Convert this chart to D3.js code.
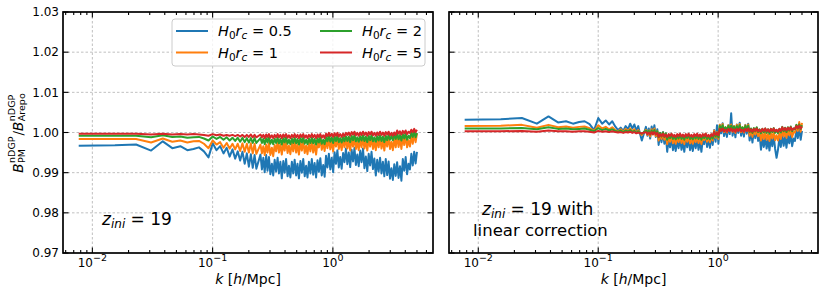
<!DOCTYPE html>
<html>
<head>
<meta charset="utf-8">
<script src="https://cdn.jsdelivr.net/npm/d3@7"></script>
<style>
  body { margin: 0; background: #fff; }
  text { font-family: "DejaVu Sans", sans-serif; fill: #000; }
</style>
</head>
<body>
<svg id="chart" width="826" height="294"></svg>
<script>
// k bins [h/Mpc]
const kValues = [0.0077,0.0154,0.0231,0.0308,0.0385,0.0462,0.0539,0.0616,0.0693,0.077,
  0.0847,0.0924,0.1001,0.1078,0.1155,0.1232,0.1309,0.1386,0.1463,0.154,
  0.1617,0.1694,0.1771,0.1848,0.1925,0.2002,0.2079,0.2156,0.2233,0.231,
  0.25,0.257,0.264,0.271,0.279,0.286,0.294,0.302,0.311,0.319,
  0.328,0.337,0.347,0.356,0.366,0.376,0.387,0.397,0.408,0.42,
  0.431,0.443,0.456,0.468,0.481,0.495,0.508,0.522,0.537,0.552,
  0.567,0.583,0.599,0.615,0.632,0.65,0.668,0.686,0.705,0.725,
  0.745,0.765,0.786,0.808,0.831,0.854,0.877,0.901,0.926,0.952,
  0.978,1.005,1.033,1.061,1.09,1.12,1.151,1.183,1.216,1.249,
  1.284,1.319,1.356,1.393,1.432,1.471,1.512,1.553,1.596,1.64,
  1.686,1.732,1.78,1.829,1.88,1.932,1.985,2.04,2.096,2.154,
  2.213,2.275,2.337,2.402,2.468,2.536,2.606,2.678,2.752,2.828,
  2.906,2.986,3.069,3.153,3.24,3.33,3.422,3.516,3.613,3.713,
  3.815,3.921,4.029,4.14,4.254,4.372,4.492,4.616,4.744,4.875,5.0];

// left panel: z_ini = 19
const leftBlue = [0.9967,0.9968,0.9970,0.9955,0.9978,0.9961,0.9966,0.9956,0.9959,0.9963,
  0.9953,0.9938,0.9973,0.9956,0.9966,0.9948,0.9962,0.9940,0.9958,0.9935,
  0.9953,0.9930,0.9952,0.9922,0.9948,0.9915,0.9946,0.9912,0.9944,0.9910,
  0.9945,0.9908,0.9937,0.9901,0.9944,0.9905,0.9939,0.9896,0.9922,0.9893,
  0.9932,0.9903,0.9937,0.9898,0.9927,0.9886,0.9929,0.9900,0.9934,0.9891,
  0.9917,0.9888,0.9927,0.9898,0.9932,0.9893,0.9922,0.9886,0.9929,0.9900,
  0.9934,0.9891,0.9917,0.9888,0.9927,0.9898,0.9934,0.9895,0.9924,0.9888,
  0.9931,0.9902,0.9936,0.9893,0.9919,0.9890,0.9942,0.9913,0.9947,0.9908,
  0.9937,0.9901,0.9951,0.9922,0.9956,0.9913,0.9939,0.9910,0.9949,0.9926,
  0.9960,0.9921,0.9950,0.9914,0.9957,0.9928,0.9962,0.9919,0.9945,0.9916,
  0.9955,0.9926,0.9960,0.9911,0.9940,0.9904,0.9947,0.9918,0.9952,0.9909,
  0.9935,0.9893,0.9932,0.9903,0.9937,0.9898,0.9927,0.9891,0.9934,0.9894,
  0.9928,0.9885,0.9911,0.9882,0.9921,0.9892,0.9926,0.9887,0.9916,0.9880,
  0.9934,0.9905,0.9939,0.9896,0.9922,0.9908,0.9947,0.9918,0.9952,0.9923,0.9952];
const leftOrange = [0.9984,0.9984,0.9984,0.9975,0.9985,0.9977,0.9980,0.9975,0.9978,0.9979,
  0.9972,0.9961,0.9980,0.9970,0.9976,0.9962,0.9974,0.9960,0.9972,0.9958,
  0.9972,0.9954,0.9973,0.9952,0.9972,0.9950,0.9973,0.9948,0.9972,0.9947,
  0.9970,0.9948,0.9966,0.9944,0.9970,0.9950,0.9974,0.9944,0.9962,0.9941,
  0.9969,0.9953,0.9978,0.9950,0.9971,0.9945,0.9975,0.9955,0.9979,0.9949,
  0.9967,0.9946,0.9974,0.9953,0.9978,0.9950,0.9971,0.9945,0.9975,0.9955,
  0.9979,0.9949,0.9967,0.9946,0.9974,0.9953,0.9978,0.9950,0.9971,0.9945,
  0.9975,0.9963,0.9987,0.9957,0.9975,0.9954,0.9982,0.9961,0.9986,0.9958,
  0.9979,0.9953,0.9985,0.9965,0.9989,0.9959,0.9977,0.9956,0.9984,0.9963,
  0.9988,0.9960,0.9981,0.9955,0.9985,0.9965,0.9989,0.9959,0.9977,0.9956,
  0.9984,0.9963,0.9988,0.9960,0.9981,0.9955,0.9985,0.9965,0.9989,0.9959,
  0.9977,0.9956,0.9984,0.9963,0.9988,0.9960,0.9981,0.9955,0.9985,0.9965,
  0.9989,0.9959,0.9977,0.9956,0.9984,0.9963,0.9992,0.9964,0.9985,0.9959,
  0.9989,0.9969,0.9993,0.9963,0.9981,0.9965,0.9993,0.9972,0.9997,0.9976,0.9997];
const leftGreen = [0.9992,0.9992,0.9992,0.9988,0.9993,0.9989,0.9990,0.9987,0.9988,0.9989,
  0.9985,0.9980,0.9990,0.9984,0.9989,0.9982,0.9988,0.9980,0.9987,0.9979,
  0.9987,0.9977,0.9987,0.9976,0.9986,0.9975,0.9986,0.9974,0.9986,0.9974,
  0.9986,0.9974,0.9984,0.9971,0.9986,0.9975,0.9988,0.9972,0.9982,0.9971,
  0.9985,0.9974,0.9987,0.9973,0.9984,0.9970,0.9986,0.9975,0.9988,0.9972,
  0.9982,0.9971,0.9985,0.9974,0.9987,0.9973,0.9984,0.9970,0.9986,0.9975,
  0.9988,0.9972,0.9982,0.9971,0.9985,0.9974,0.9987,0.9973,0.9984,0.9970,
  0.9986,0.9975,0.9988,0.9972,0.9982,0.9971,0.9989,0.9978,0.9991,0.9977,
  0.9988,0.9974,0.9990,0.9979,0.9992,0.9976,0.9986,0.9975,0.9989,0.9978,
  0.9991,0.9979,0.9990,0.9976,0.9992,0.9981,0.9994,0.9978,0.9988,0.9977,
  0.9991,0.9980,0.9993,0.9979,0.9990,0.9976,0.9992,0.9981,0.9994,0.9978,
  0.9988,0.9977,0.9991,0.9980,0.9993,0.9979,0.9990,0.9976,0.9992,0.9981,
  0.9994,0.9982,0.9992,0.9981,0.9995,0.9984,0.9997,0.9983,0.9994,0.9980,
  0.9996,0.9985,0.9998,0.9982,0.9992,0.9986,1.0000,0.9989,1.0002,0.9988,0.9999];
const leftRed = [0.9997,0.9997,0.9997,0.9995,0.9997,0.9995,0.9996,0.9995,0.9996,0.9995,
  0.9994,0.9992,0.9996,0.9993,0.9995,0.9992,0.9994,0.9992,0.9994,0.9991,
  0.9994,0.9990,0.9994,0.9989,0.9994,0.9989,0.9995,0.9988,0.9994,0.9988,
  0.9995,0.9988,0.9994,0.9986,0.9995,0.9989,0.9996,0.9987,0.9993,0.9986,
  0.9994,0.9988,0.9996,0.9988,0.9994,0.9986,0.9995,0.9989,0.9996,0.9987,
  0.9993,0.9986,0.9994,0.9988,0.9996,0.9988,0.9994,0.9986,0.9995,0.9989,
  0.9996,0.9987,0.9993,0.9986,0.9994,0.9988,0.9996,0.9988,0.9994,0.9986,
  0.9995,0.9989,0.9996,0.9987,0.9993,0.9986,0.9997,0.9991,0.9999,0.9991,
  0.9997,0.9989,0.9998,0.9992,0.9999,0.9990,0.9996,0.9989,0.9997,0.9991,
  0.9999,0.9994,1.0000,0.9992,1.0001,0.9995,1.0002,0.9993,0.9999,0.9992,
  1.0000,0.9994,1.0002,0.9994,1.0000,0.9992,1.0001,0.9995,1.0002,0.9993,
  0.9999,0.9992,1.0000,0.9994,1.0002,0.9994,1.0000,0.9992,1.0001,0.9995,
  1.0002,0.9993,0.9999,0.9992,1.0000,0.9994,1.0005,0.9997,1.0003,0.9995,
  1.0004,0.9998,1.0005,0.9996,1.0002,0.9999,1.0007,1.0001,1.0009,1.0001,1.0007];

// right panel: z_ini = 19 with linear correction
const rightBlue = [1.0032,1.0033,1.0036,1.0022,1.0040,1.0025,1.0028,1.0022,1.0026,1.0028,
  1.0021,1.0006,1.0036,1.0022,1.0030,1.0020,1.0028,1.0015,1.0006,1.0012,
  1.0004,1.0016,1.0008,1.0022,1.0010,1.0020,1.0005,1.0016,0.9996,0.9980,
  1.0014,0.9992,1.0010,0.9985,1.0015,0.9996,1.0018,0.9989,1.0008,0.9969,
  0.9998,0.9976,1.0001,0.9972,0.9994,0.9952,0.9984,0.9963,0.9988,0.9956,
  0.9975,0.9954,0.9983,0.9961,0.9986,0.9957,0.9979,0.9952,0.9984,0.9963,
  0.9988,0.9956,0.9975,0.9954,0.9983,0.9961,0.9986,0.9957,0.9979,0.9952,
  0.9984,0.9971,0.9996,0.9964,0.9983,0.9962,0.9991,0.9969,1.0006,0.9977,
  1.0018,0.9972,1.0019,0.9998,1.0023,0.9991,1.0010,0.9989,1.0018,0.9996,
  1.0048,0.9992,1.0014,0.9988,1.0020,0.9999,1.0024,0.9992,1.0011,0.9990,
  1.0019,0.9997,1.0022,0.9980,1.0002,0.9975,1.0007,0.9986,1.0011,0.9979,
  0.9998,0.9957,0.9986,0.9964,0.9989,0.9960,0.9982,0.9955,0.9987,0.9966,
  0.9991,0.9959,0.9937,0.9957,0.9986,0.9964,0.9996,0.9967,0.9989,0.9962,
  0.9994,0.9973,0.9998,0.9966,0.9985,0.9979,1.0008,0.9986,1.0011,0.9982,1.0004];
const rightOrange = [1.0016,1.0017,1.0019,1.0012,1.0019,1.0013,1.0015,1.0012,1.0014,1.0015,
  1.0011,1.0004,1.0018,1.0010,1.0014,1.0008,1.0013,1.0006,1.0003,1.0008,
  1.0002,1.0009,1.0004,1.0010,1.0003,1.0008,0.9999,1.0006,0.9998,0.9994,
  1.0007,0.9994,1.0005,0.9990,1.0008,0.9995,1.0010,0.9991,1.0003,0.9980,
  0.9998,0.9984,1.0000,0.9982,0.9996,0.9971,0.9991,0.9977,0.9993,0.9973,
  0.9985,0.9972,0.9990,0.9976,0.9992,0.9974,0.9988,0.9971,0.9991,0.9977,
  0.9993,0.9973,0.9985,0.9972,0.9990,0.9976,0.9992,0.9974,0.9988,0.9971,
  0.9991,0.9981,0.9997,0.9977,0.9989,0.9976,0.9994,0.9980,1.0005,0.9987,
  1.0001,0.9984,1.0019,1.0005,1.0021,1.0001,1.0013,1.0000,1.0018,1.0004,
  1.0020,1.0002,1.0016,0.9999,1.0019,1.0005,1.0021,1.0001,1.0013,1.0000,
  1.0018,1.0004,1.0020,0.9992,1.0006,0.9989,1.0009,0.9995,1.0011,0.9991,
  1.0003,0.9980,0.9998,0.9984,1.0000,0.9982,0.9996,0.9979,0.9999,0.9985,
  1.0001,0.9981,0.9993,0.9980,0.9998,0.9984,1.0008,0.9990,1.0004,0.9987,
  1.0007,0.9993,1.0009,0.9989,1.0001,1.0000,1.0018,1.0004,1.0026,1.0002,1.0024];
const rightGreen = [1.0010,1.0010,1.0011,1.0008,1.0013,1.0009,1.0010,1.0008,1.0009,1.0010,
  1.0007,1.0003,1.0011,1.0006,1.0009,1.0005,1.0008,1.0004,1.0002,1.0005,
  1.0001,1.0005,1.0002,1.0006,1.0001,1.0004,0.9999,1.0003,0.9999,0.9997,
  1.0005,0.9997,1.0004,0.9995,1.0005,0.9998,1.0006,0.9996,1.0003,0.9988,
  0.9999,0.9990,1.0000,0.9989,0.9998,0.9982,0.9994,0.9986,0.9996,0.9984,
  0.9991,0.9983,0.9994,0.9985,0.9995,0.9984,0.9993,0.9982,0.9994,0.9986,
  0.9996,0.9984,0.9991,0.9983,0.9994,0.9985,0.9995,0.9984,0.9993,0.9982,
  0.9994,0.9986,0.9996,0.9984,0.9991,0.9983,0.9994,0.9985,1.0001,0.9990,
  0.9999,0.9988,1.0016,1.0008,1.0018,1.0006,1.0013,1.0005,1.0016,1.0007,
  1.0017,1.0006,1.0015,1.0004,1.0016,1.0008,1.0018,1.0006,1.0013,1.0005,
  1.0016,1.0007,1.0017,1.0001,1.0010,0.9999,1.0011,1.0003,1.0013,1.0001,
  1.0008,0.9998,1.0009,1.0000,1.0010,0.9999,1.0008,0.9997,1.0009,1.0001,
  1.0011,0.9999,1.0006,0.9998,1.0009,1.0000,1.0014,1.0003,1.0012,1.0001,
  1.0013,1.0005,1.0015,1.0003,1.0010,1.0008,1.0019,1.0010,1.0020,1.0009,1.0018];
const rightRed = [1.0003,1.0003,1.0004,1.0002,1.0005,1.0003,1.0003,1.0002,1.0003,1.0003,
  1.0002,1.0000,1.0004,1.0002,1.0003,1.0001,1.0003,1.0001,1.0000,1.0001,
  0.9999,1.0001,1.0000,1.0002,0.9999,1.0001,0.9998,1.0000,0.9998,0.9998,
  1.0001,0.9996,1.0000,0.9995,1.0001,0.9996,1.0001,0.9995,0.9999,0.9989,
  0.9996,0.9991,0.9997,0.9990,0.9995,0.9989,0.9996,0.9991,0.9997,0.9990,
  0.9994,0.9989,0.9996,0.9991,0.9997,0.9990,0.9995,0.9989,0.9996,0.9991,
  0.9997,0.9990,0.9994,0.9989,0.9996,0.9991,0.9997,0.9990,0.9995,0.9989,
  0.9996,0.9991,0.9997,0.9990,0.9994,0.9989,0.9996,0.9991,1.0001,0.9994,
  0.9999,0.9993,1.0009,1.0004,1.0010,1.0003,1.0007,1.0002,1.0009,1.0004,
  1.0010,1.0003,1.0008,1.0002,1.0009,1.0004,1.0010,1.0003,1.0007,1.0002,
  1.0009,1.0004,1.0010,1.0003,1.0008,1.0002,1.0009,1.0004,1.0010,1.0003,
  1.0007,1.0002,1.0009,1.0004,1.0010,1.0003,1.0008,1.0002,1.0009,1.0004,
  1.0010,1.0003,1.0007,1.0002,1.0009,1.0004,1.0013,1.0006,1.0011,1.0005,
  1.0012,1.0007,1.0013,1.0006,1.0010,1.0009,1.0016,1.0011,1.0017,1.0010,1.0015];

const seriesLabels = ['0.5', '1', '2', '5'];
const seriesColors = ['#1f77b4', '#ff7f0e', '#2ca02c', '#d62728'];
const xMajorTicks = [0.01, 0.1, 1];
const xMajorExp = ['\u22122', '\u22121', '0'];
const xMinorTicks = [0.006,0.007,0.008,0.009,0.02,0.03,0.04,0.05,0.06,0.07,0.08,0.09,
  0.2,0.3,0.4,0.5,0.6,0.7,0.8,0.9,2,3,4,5,6];
const yTicks = [0.97, 0.98, 0.99, 1.00, 1.01, 1.02, 1.03];

const svg = d3.select('#chart');
const plotTop = 12, plotBottom = 253;

const y = d3.scaleLinear().domain([0.97, 1.03]).range([plotBottom, plotTop]);

function drawPanel(id, left, right, series, showYLabels) {
    const x = d3.scaleLog().domain([0.0057, 6.8]).range([left, right]);
    const g = svg.append('g');

    // grid
    g.append('g').selectAll('line').data(xMajorTicks).enter().append('line')
        .attr('x1', d => x(d)).attr('x2', d => x(d)).attr('y1', plotTop).attr('y2', plotBottom)
        .attr('stroke', '#b0b0b0').attr('stroke-width', 0.8).attr('stroke-dasharray', '2.5,2');
    g.append('g').selectAll('line').data(yTicks.slice(1, -1)).enter().append('line')
        .attr('x1', left).attr('x2', right).attr('y1', d => y(d)).attr('y2', d => y(d))
        .attr('stroke', '#b0b0b0').attr('stroke-width', 0.8).attr('stroke-dasharray', '2.5,2');

    // clipped lines
    svg.append('clipPath').attr('id', 'clip' + id).append('rect')
        .attr('x', left).attr('y', plotTop).attr('width', right - left).attr('height', plotBottom - plotTop);
    const line = d3.line().x((d, i) => x(kValues[i])).y(d => y(d));
    g.append('g').attr('clip-path', `url(#clip${id})`)
        .selectAll('path').data(series).enter().append('path')
        .attr('d', d => line(d)).attr('fill', 'none')
        .attr('stroke', (d, i) => seriesColors[i]).attr('stroke-width', 2)
        .attr('stroke-linejoin', 'round');

    // ticks, inward on all sides
    const ticks = g.append('g').attr('stroke', '#000').attr('stroke-width', 1.1);
    [[xMajorTicks, 5.5], [xMinorTicks, 3]].forEach(([vals, len]) => {
        vals.forEach(v => {
            const xv = x(v);
            if (xv < left || xv > right) return;
            ticks.append('line').attr('x1', xv).attr('x2', xv).attr('y1', plotBottom).attr('y2', plotBottom - len);
            ticks.append('line').attr('x1', xv).attr('x2', xv).attr('y1', plotTop).attr('y2', plotTop + len);
        });
    });
    yTicks.forEach(v => {
        ticks.append('line').attr('x1', left).attr('x2', left + 5.5).attr('y1', y(v)).attr('y2', y(v));
        ticks.append('line').attr('x1', right).attr('x2', right - 5.5).attr('y1', y(v)).attr('y2', y(v));
    });

    // frame
    g.append('rect').attr('x', left).attr('y', plotTop).attr('width', right - left).attr('height', plotBottom - plotTop)
        .attr('fill', 'none').attr('stroke', '#000').attr('stroke-width', 1.7);

    // x tick labels
    xMajorTicks.forEach((v, i) => {
        const t = g.append('text').attr('x', x(v)).attr('y', 266.5)
            .attr('text-anchor', 'middle').attr('font-size', 12);
        t.append('tspan').text('10');
        t.append('tspan').attr('dy', -6).attr('font-size', 9.5).text(xMajorExp[i]);
    });

    if (showYLabels) {
        g.append('g').selectAll('text').data(yTicks).enter().append('text')
            .attr('x', left - 4).attr('y', d => y(d) + 4.3)
            .attr('text-anchor', 'end').attr('font-size', 12)
            .text(d => d.toFixed(2));
    }

    // x axis label
    const xl = g.append('text').attr('x', (left + right) / 2).attr('y', 284)
        .attr('text-anchor', 'middle').attr('font-size', 14);
    xl.append('tspan').attr('font-style', 'italic').text('k');
    xl.append('tspan').text(' [');
    xl.append('tspan').attr('font-style', 'italic').text('h');
    xl.append('tspan').text('/Mpc]');
    return x;
}

drawPanel('L', 63, 433, [leftBlue, leftOrange, leftGreen, leftRed], true);
drawPanel('R', 449, 818, [rightBlue, rightOrange, rightGreen, rightRed], false);

// z_ini annotations
function zini(t, extra) {
    t.append('tspan').attr('font-style', 'italic').text('z');
    t.append('tspan').attr('font-style', 'italic').attr('font-size', 12).attr('dy', 2.5).text('ini');
    t.append('tspan').attr('dy', -2.5).text(' = 19' + extra);
}
zini(svg.append('text').attr('x', 102).attr('y', 225).attr('font-size', 17), '');
zini(svg.append('text').attr('x', 482).attr('y', 215).attr('font-size', 17), ' with');
svg.append('text').attr('x', 473).attr('y', 236).attr('font-size', 16.5).text('linear correction');

// y axis label (rotated, stacked super/subscripts)
(function () {
    const g = svg.append('g').attr('transform', 'translate(23,132.5) rotate(-90)');
    const inner = g.append('g');
    let u = 0;
    ['PM', 'Arepo'].forEach((sub, i) => {
        if (i > 0) {
            const s = inner.append('text').attr('x', u).attr('font-size', 13.5).text('/');
            u += s.node().getComputedTextLength();
        }
        const b = inner.append('text').attr('x', u).attr('font-size', 13.5).attr('font-style', 'italic').text('B');
        u += b.node().getComputedTextLength() + 0.5;
        const sp = inner.append('text').attr('x', u).attr('y', -8.5).attr('font-size', 9.5).text('nDGP');
        const sb = inner.append('text').attr('x', u).attr('y', 1.5).attr('font-size', 9.5).text(sub);
        u += Math.max(sp.node().getComputedTextLength(), sb.node().getComputedTextLength()) + 1;
    });
    inner.attr('transform', `translate(${-u / 2},0)`);
})();

// legend
const legend = svg.append('g');
legend.append('rect').attr('x', 172).attr('y', 19).attr('width', 253).attr('height', 47)
    .attr('rx', 3).attr('fill', '#fff').attr('fill-opacity', 0.8)
    .attr('stroke', '#cccccc').attr('stroke-width', 1);
const legendPos = [[176, 31], [176, 52.5], [320, 31], [320, 52.5]];
seriesLabels.forEach((lab, i) => {
    const [lx, ly] = legendPos[i];
    legend.append('line').attr('x1', lx).attr('x2', lx + 32).attr('y1', ly).attr('y2', ly)
        .attr('stroke', seriesColors[i]).attr('stroke-width', 2);
    const t = legend.append('text').attr('x', lx + 42).attr('y', ly + 5).attr('font-size', 14.5);
    t.append('tspan').attr('font-style', 'italic').text('H');
    t.append('tspan').attr('font-size', 10.5).attr('dy', 3).text('0');
    t.append('tspan').attr('font-style', 'italic').attr('dy', -3).text('r');
    t.append('tspan').attr('font-style', 'italic').attr('font-size', 10.5).attr('dy', 3).text('c');
    t.append('tspan').attr('dy', -3).text(' = ' + lab);
});
</script>
</body>
</html>
